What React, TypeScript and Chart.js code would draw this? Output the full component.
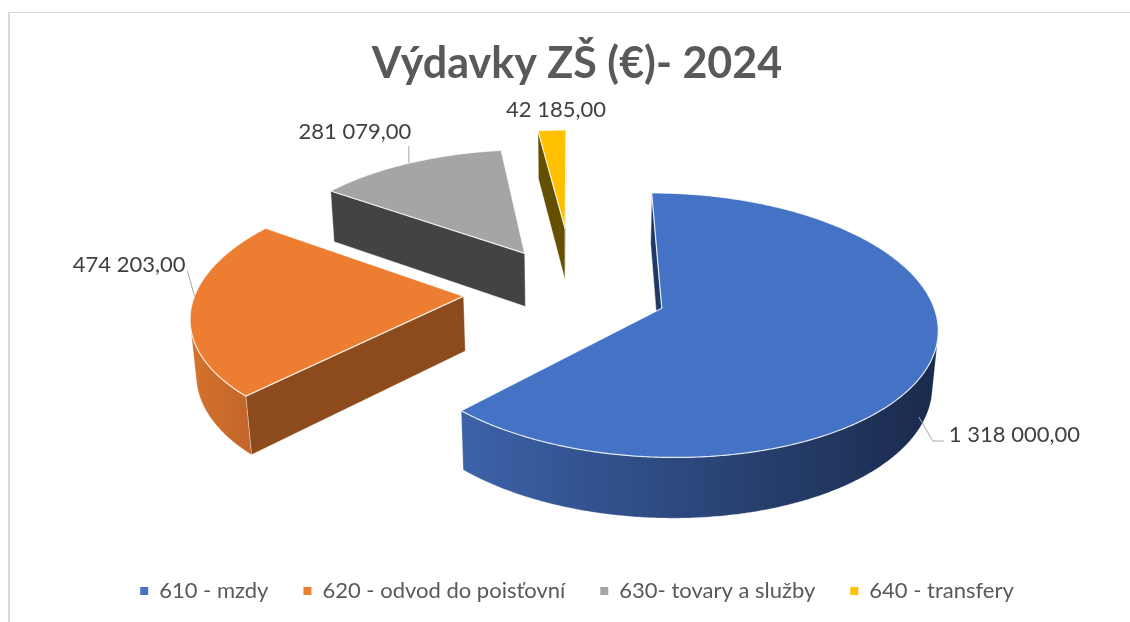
import React, { useEffect, useRef } from "react";
import { Chart, registerables } from "chart.js";

Chart.register(...registerables);

// ---------------- data ----------------
const TITLE = "Výdavky ZŠ (€)- 2024";
const categories = ["610 - mzdy", "620 - odvod do poisťovní", "630- tovary a služby", "640 - transfery"];
const values = [1318000, 474203, 281079, 42185];
const explodeOffsets = [105, 123, 110, 160];

// ---------------- styles ----------------
const topColors = ["#4472C4", "#ED7D31", "#A5A5A5", "#FFC000"];
const cutColors = ["#1f3864", "#8c4a1d", "#434343", "#654f00"];
const sideLeft = ["#3c62a8", "#d5732d", "#8a8a8a", "#d9a300"];
const sideRight = ["#1a2a4c", "#c2652a", "#555555", "#806600"];
const FONT = "Lato, 'Noto Sans', sans-serif";

// camera / projection parameters (3D look)
const VIEW = { elevDeg: 28, dist: 6.97, focal: 1867, depth: 0.235, dx: -3.5, dy: -26 };

// label placement relative to the projected rim point
const LABELS = [
  { da: 6, h: 0.75, leader: [[0, 0], [14, 24], [25, 24]], text: [30, 18], align: "left" },
  { da: 5.4, h: 0, leader: [[0, 0], [-7, -25]], text: [-9, -31], align: "right" },
  { da: 0, h: 0, leader: [[0, 0], [0, -17]], text: [-54, -31], align: "center" },
  { da: 0, h: 0, leader: [], text: [4, -20], align: "center" },
];

function fmt(v: number): string {
  const [ip, dp] = v.toFixed(2).split(".");
  return ip.replace(/\B(?=(\d{3})+(?!\d))/g, " ") + "," + dp;
}

const pie3d = {
  id: "pie3d",
  beforeDatasetsDraw(chart: any) {
    const ctx: CanvasRenderingContext2D = chart.ctx;
    const meta = chart.getDatasetMeta(0);
    const el = (VIEW.elevDeg * Math.PI) / 180;
    const S = Math.sin(el), C = Math.cos(el);
    const D = VIEW.dist, F = VIEW.focal, d = VIEW.depth;

    const slices = meta.data.map((arc: any, i: number) => {
      const p = arc.getProps(["x", "y", "startAngle", "endAngle", "outerRadius"], true);
      const off = (arc.options.offset || 0) / p.outerRadius;
      const mid = (p.startAngle + p.endAngle) / 2;
      return { i, ...p, mid, ax: off * Math.cos(mid), ay: off * Math.sin(mid) };
    });
    if (!slices.length) return false;
    const cx = slices[0].x + VIEW.dx;
    const cy = slices[0].y + VIEW.dy;

    const proj = (X: number, Y: number, h: number): [number, number] => {
      const zc = D - Y * C + h * d * S;
      return [cx + (F * X) / zc, cy + (F * (Y * S + h * d * C)) / zc];
    };
    const poly = (pts: [number, number][], fill: any, stroke?: string, lw = 1) => {
      ctx.beginPath();
      pts.forEach((q, k) => (k ? ctx.lineTo(q[0], q[1]) : ctx.moveTo(q[0], q[1])));
      ctx.closePath();
      ctx.fillStyle = fill;
      ctx.fill();
      if (stroke) {
        ctx.strokeStyle = stroke;
        ctx.lineWidth = lw;
        ctx.lineJoin = "round";
        ctx.stroke();
      }
    };

    const order = [...slices].sort((a, b) => a.ay - b.ay);
    ctx.save();
    for (const sl of order) {
      const i = sl.i;
      const span = sl.endAngle - sl.startAngle;
      const n = Math.max(2, Math.ceil(span / (Math.PI / 360)));
      const angs: number[] = [];
      for (let k = 0; k <= n; k++) angs.push(sl.startAngle + (span * k) / n);
      const rim = (a: number, h: number) => proj(sl.ax + Math.cos(a), sl.ay + Math.sin(a), h);

      // cut faces
      const faces = [
        { a: sl.startAngle, nx: Math.sin(sl.startAngle), ny: -Math.cos(sl.startAngle) },
        { a: sl.endAngle, nx: -Math.sin(sl.endAngle), ny: Math.cos(sl.endAngle) },
      ];
      for (const f of faces) {
        const px = sl.ax + 0.5 * Math.cos(f.a), py = sl.ay + 0.5 * Math.sin(f.a);
        const dot = f.nx * -px + f.ny * (D * C - py);
        if (dot > 0) {
          poly([proj(sl.ax, sl.ay, 0), rim(f.a, 0), rim(f.a, 1), proj(sl.ax, sl.ay, 1)], cutColors[i], "rgba(255,255,255,0.45)", 1);
        }
      }

      // curved side band
      const runs: number[][] = [];
      let cur: number[] = [];
      for (const a of angs) {
        const px = sl.ax + Math.cos(a), py = sl.ay + Math.sin(a);
        const dot = Math.cos(a) * -px + Math.sin(a) * (D * C - py);
        if (dot > 0) cur.push(a);
        else if (cur.length) { runs.push(cur); cur = []; }
      }
      if (cur.length) runs.push(cur);
      for (const run of runs) {
        if (run.length < 2) continue;
        const topPts = run.map((a) => rim(a, 0));
        const botPts = run.map((a) => rim(a, 1)).reverse();
        const all = [...topPts, ...botPts];
        const xs = all.map((q) => q[0]);
        const g = ctx.createLinearGradient(Math.min(...xs), 0, Math.max(...xs), 0);
        g.addColorStop(0, sideLeft[i]);
        g.addColorStop(1, sideRight[i]);
        poly(all, g, "rgba(255,255,255,0.25)", 1);
      }

      // top face
      const top: [number, number][] = [proj(sl.ax, sl.ay, 0), ...angs.map((a) => rim(a, 0))];
      poly(top, topColors[i], "rgba(255,255,255,0.8)", 1.2);
    }

    // data labels
    ctx.font = `22px ${FONT}`;
    ctx.textBaseline = "middle";
    for (const sl of slices) {
      const L = LABELS[sl.i];
      const a = sl.mid + (L.da * Math.PI) / 180;
      const [axp, ayp] = proj(sl.ax + Math.cos(a), sl.ay + Math.sin(a), L.h);
      if (L.leader.length > 1) {
        ctx.beginPath();
        L.leader.forEach((q, k) => (k ? ctx.lineTo(axp + q[0], ayp + q[1]) : ctx.moveTo(axp + q[0], ayp + q[1])));
        ctx.strokeStyle = "#a6a6a6";
        ctx.lineWidth = 1;
        ctx.stroke();
      }
      ctx.fillStyle = "#404040";
      ctx.textAlign = L.align as CanvasTextAlign;
      ctx.fillText(fmt(values[sl.i]), axp + L.text[0], ayp + L.text[1]);
    }
    ctx.restore();
    return false;
  },
};

export default function App() {
  const ref = useRef<HTMLCanvasElement>(null);
  useEffect(() => {
    const canvas = ref.current!;
    const chart = new Chart(canvas, {
      type: "pie",
      data: {
        labels: categories,
        datasets: [
          {
            data: values,
            backgroundColor: topColors,
            borderWidth: 0,
            offset: explodeOffsets,
          } as any,
        ],
      },
      options: {
        responsive: false,
        maintainAspectRatio: false,
        devicePixelRatio: 1,
        animation: false,
        events: [],
        radius: 300,
        layout: { padding: { left: 24, top: 0, right: 0, bottom: 10 } },
        plugins: {
          title: {
            display: true,
            text: TITLE,
            color: "#595959",
            font: { family: FONT, size: 43, weight: "bold" },
            padding: { top: 38, bottom: 0 },
          },
          legend: {
            position: "bottom",
            labels: {
              boxWidth: 8,
              boxHeight: 8,
              padding: 35,
              color: "#595959",
              font: { family: FONT, size: 22 },
            },
          },
          tooltip: { enabled: false },
        },
      } as any,
      plugins: [pie3d],
    });
    return () => chart.destroy();
  }, []);
  return (
    <>
      <div
        style={{
          position: "fixed",
          left: 8,
          top: 12,
          width: 1300,
          height: 800,
          borderTop: "1px solid #d9d9d9",
          borderLeft: "2px solid #d9d9d9",
        }}
      />
      <canvas ref={ref} width={1130} height={622} style={{ position: "fixed", left: 0, top: 0, width: 1130, height: 622 }} />
    </>
  );
}
